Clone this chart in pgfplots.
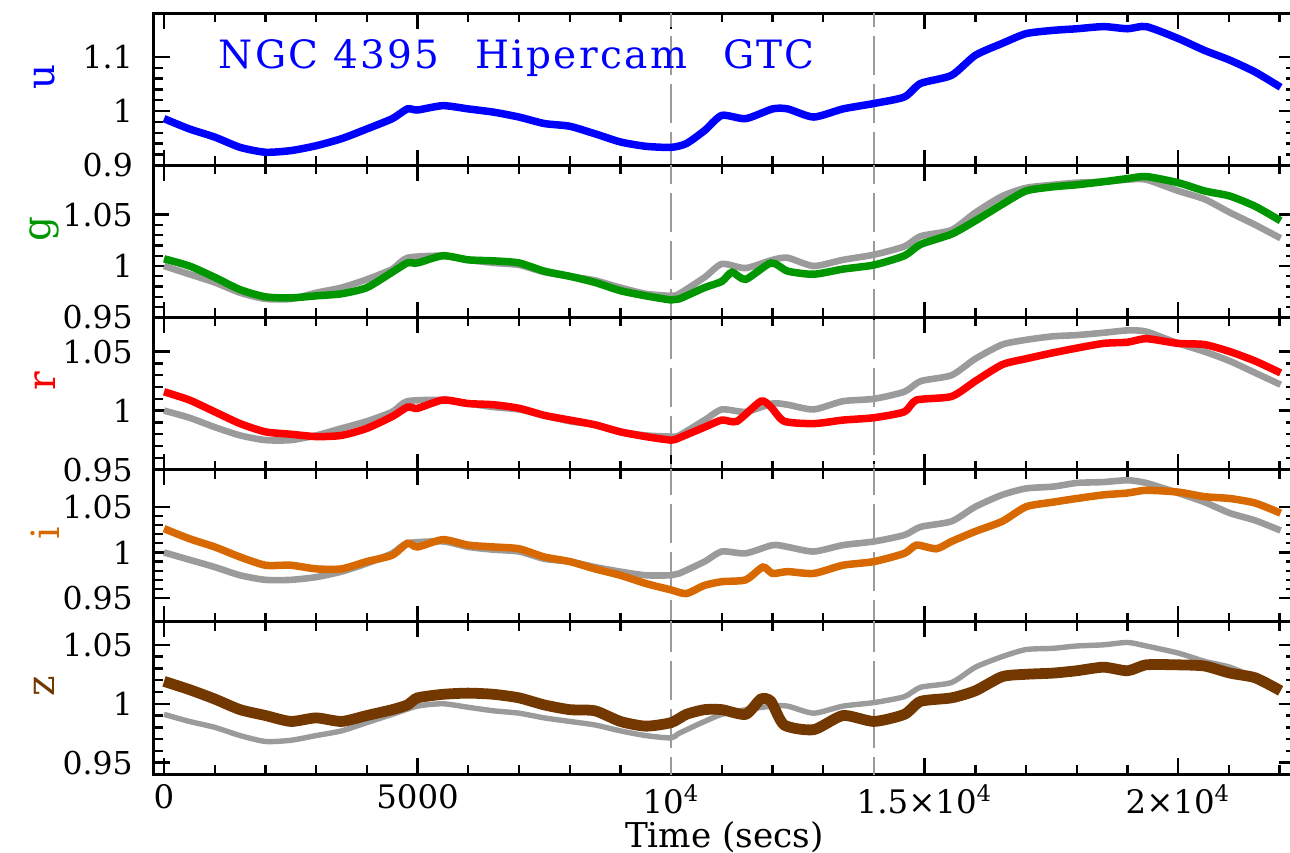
\documentclass[border=0pt]{standalone}
\usepackage{fontspec}
\setmainfont{DejaVu Serif}
\usepackage{pgfplots}
\pgfplotsset{compat=1.18}
\definecolor{cu}{RGB}{0,0,255}
\definecolor{cg}{RGB}{0,150,0}
\definecolor{cr}{RGB}{255,0,0}
\definecolor{ci}{RGB}{215,105,0}
\definecolor{cz}{RGB}{115,55,0}
\definecolor{cgray}{RGB}{155,155,155}
\pgfplotsset{
  panel/.style={
    scale only axis, width=380.3pt, height=50.73pt,
    xmin=-200, xmax=22300,
    scaled x ticks=false, scaled y ticks=false,
    xtick={0,5000,10000,15000,20000},
    minor xtick={1000,2000,...,22000},
    xticklabels={},
    minor y tick num=4,
    tick align=inside,
    major tick length=5.2pt, minor tick length=3pt,
    axis line style={line width=1pt},
    every tick/.style={black, line width=0.8pt},
    yticklabel style={font=\fontsize{10.5}{12}\selectfont, xshift=-3.5pt},
    xticklabel style={font=\fontsize{10.8}{12}\selectfont, yshift=0pt},
    every axis y label/.style={at={(rel axis cs:0,0.58)}, rotate=90, anchor=center, yshift=36.4pt, font=\fontsize{13}{15}\selectfont},
    every axis x label/.style={at={(rel axis cs:0.5,0)}, anchor=base, yshift=-24.4pt, font=\fontsize{11.4}{13}\selectfont},
    clip=true,
  },
  dline/.style={cgray, line width=0.6pt, dash pattern=on 13pt off 3pt},
  dat/.style={line width=2.5pt, smooth, tension=0.4, mark=none},
  gdat/.style={line width=2.2pt, smooth, tension=0.4, mark=none, cgray},
}
\begin{document}
\begin{tikzpicture}
\path[use as bounding box] (-51.3pt,-26pt) rectangle (378.7pt,258pt);

% ---------------- u ----------------
\begin{axis}[panel, at={(0,202.92pt)}, ymin=0.9, ymax=1.181,
  ytick={0.9,1,1.1}, yticklabels={0.9,1,1.1}, ylabel={u}, ylabel style={text=cu}]
\addplot[dline] coordinates {(10000,0.8) (10000,1.3)};
\addplot[dline] coordinates {(14000,0.8) (14000,1.3)};
\addplot[dat, cu] coordinates {(0,0.986)(500,0.967)(1000,0.952)(1500,0.933)(2000,0.924)(2500,0.927)(3000,0.936)(3500,0.949)(4000,0.967)(4500,0.986)(4800,1.004)(5000,1.002)(5500,1.010)(6000,1.004)(6500,0.998)(7000,0.989)(7500,0.977)(8000,0.972)(8500,0.958)(9000,0.943)(9500,0.935)(10000,0.933)(10300,0.940)(10660,0.964)(11000,0.992)(11470,0.986)(12000,1.004)(12300,1.004)(12810,0.989)(13390,1.004)(14000,1.014)(14600,1.026)(14920,1.051)(15530,1.066)(16000,1.103)(16530,1.125)(17000,1.143)(17530,1.149)(18000,1.152)(18530,1.156)(19000,1.152)(19370,1.156)(20000,1.134)(20520,1.112)(21020,1.094)(21520,1.072)(22020,1.044)};
\node[anchor=base west, inner sep=0pt, text=cu, font=\fontsize{13}{15}\selectfont\addfontfeatures{LetterSpace=6}] at (axis cs:1065,1.0785) {NGC 4395\hspace{12pt}Hipercam\hspace{12pt}GTC};
\end{axis}

% ---------------- g ----------------
\begin{axis}[panel, at={(0,152.19pt)}, ymin=0.95, ymax=1.098,
  ytick={0.95,1,1.05}, yticklabels={0.95,1,1.05}, ylabel={g}, ylabel style={text=cg}]
\addplot[dline] coordinates {(10000,0.8) (10000,1.3)};
\addplot[dline] coordinates {(14000,0.8) (14000,1.3)};
\addplot[gdat] coordinates {(0,1.000)(500,0.992)(1000,0.984)(1500,0.974)(2000,0.968)(2500,0.968)(3000,0.974)(3500,0.979)(4000,0.987)(4500,0.997)(4800,1.008)(5500,1.010)(6000,1.006)(6500,1.003)(7000,1.001)(7500,0.994)(8000,0.990)(8500,0.986)(9000,0.979)(9500,0.973)(10000,0.971)(10160,0.973)(10660,0.989)(11000,1.002)(11470,0.998)(12000,1.006)(12300,1.008)(12810,1.000)(13390,1.006)(14000,1.011)(14600,1.019)(14920,1.029)(15530,1.035)(16000,1.052)(16530,1.068)(17000,1.076)(17530,1.079)(18000,1.081)(18530,1.082)(19000,1.084)(19370,1.084)(20000,1.073)(20520,1.065)(21020,1.052)(21520,1.040)(22020,1.027)};
\addplot[dat, cg] coordinates {(0,1.007)(500,1.000)(1000,0.989)(1500,0.977)(2000,0.970)(2500,0.969)(3000,0.971)(3500,0.973)(4000,0.979)(4500,0.994)(4800,1.003)(5000,1.003)(5500,1.010)(6000,1.006)(6500,1.005)(7000,1.003)(7500,0.995)(8000,0.990)(8500,0.984)(9000,0.976)(9500,0.971)(10000,0.967)(10160,0.968)(10660,0.979)(11000,0.985)(11200,0.994)(11470,0.987)(11970,1.003)(12300,0.995)(12810,0.992)(13390,0.997)(14000,1.001)(14600,1.010)(14920,1.021)(15530,1.031)(16000,1.044)(16530,1.060)(17000,1.073)(17530,1.077)(18000,1.079)(18530,1.082)(19000,1.085)(19370,1.087)(20000,1.081)(20520,1.073)(21020,1.068)(21520,1.058)(22020,1.044)};
\end{axis}

% ---------------- r ----------------
\begin{axis}[panel, at={(0,101.46pt)}, ymin=0.95, ymax=1.079,
  ytick={0.95,1,1.05}, yticklabels={0.95,1,1.05}, ylabel={r}, ylabel style={text=cr}]
\addplot[dline] coordinates {(10000,0.8) (10000,1.3)};
\addplot[dline] coordinates {(14000,0.8) (14000,1.3)};
\addplot[gdat] coordinates {(0,1.000)(500,0.994)(1000,0.986)(1500,0.979)(2000,0.975)(2500,0.975)(3000,0.979)(3500,0.985)(4000,0.991)(4500,0.999)(4800,1.008)(5500,1.009)(6000,1.006)(6500,1.003)(7000,1.001)(7500,0.996)(8000,0.991)(8500,0.988)(9000,0.982)(9500,0.979)(10000,0.978)(10160,0.979)(10660,0.992)(11000,1.001)(11470,0.999)(12000,1.006)(12300,1.005)(12810,1.001)(13390,1.008)(14000,1.010)(14600,1.016)(14920,1.025)(15530,1.030)(16000,1.044)(16530,1.056)(17000,1.060)(17530,1.063)(18000,1.064)(18530,1.066)(19000,1.068)(19370,1.067)(20000,1.057)(20520,1.050)(21020,1.042)(21520,1.032)(22020,1.022)};
\addplot[dat, cr] coordinates {(0,1.016)(500,1.009)(1000,0.999)(1500,0.989)(2000,0.982)(2500,0.980)(3000,0.978)(3500,0.979)(4000,0.985)(4500,0.995)(4800,1.003)(5000,1.002)(5500,1.009)(6000,1.006)(6500,1.005)(7000,1.002)(7500,0.996)(8000,0.992)(8500,0.988)(9000,0.982)(9500,0.978)(10000,0.975)(10160,0.977)(10660,0.986)(11000,0.992)(11300,0.991)(11770,1.008)(11970,1.003)(12230,0.991)(12810,0.989)(13390,0.992)(14000,0.994)(14600,0.999)(14840,1.009)(15530,1.012)(16000,1.025)(16530,1.039)(17000,1.044)(17530,1.049)(18000,1.053)(18530,1.057)(19000,1.058)(19370,1.061)(20000,1.057)(20520,1.056)(21020,1.050)(21520,1.042)(22020,1.032)};
\end{axis}

% ---------------- i ----------------
\begin{axis}[panel, at={(0,50.73pt)}, ymin=0.9241, ymax=1.0906,
  ytick={0.95,1,1.05}, yticklabels={0.95,1,1.05}, ylabel={i}, ylabel style={text=ci}]
\addplot[dline] coordinates {(10000,0.8) (10000,1.3)};
\addplot[dline] coordinates {(14000,0.8) (14000,1.3)};
\addplot[gdat] coordinates {(0,1.000)(500,0.992)(1000,0.984)(1500,0.975)(2000,0.970)(2500,0.970)(3000,0.973)(3500,0.979)(4000,0.988)(4500,0.999)(4800,1.010)(5500,1.012)(6000,1.006)(6500,1.003)(7000,1.001)(7500,0.993)(8000,0.990)(8500,0.984)(9000,0.979)(9500,0.975)(10000,0.975)(10160,0.977)(10660,0.990)(11000,1.001)(11470,0.999)(12000,1.008)(12300,1.006)(12810,1.001)(13390,1.008)(14000,1.012)(14600,1.019)(14920,1.028)(15530,1.034)(16000,1.050)(16530,1.063)(17000,1.070)(17530,1.072)(18000,1.076)(18530,1.077)(19000,1.079)(19370,1.076)(20000,1.065)(20520,1.055)(21020,1.043)(21520,1.035)(22020,1.024)};
\addplot[dat, ci] coordinates {(0,1.026)(500,1.015)(1000,1.006)(1500,0.995)(2000,0.986)(2500,0.986)(3000,0.982)(3500,0.982)(4000,0.990)(4500,0.997)(4800,1.010)(5000,1.006)(5500,1.014)(6000,1.008)(6500,1.006)(7000,1.004)(7500,0.995)(8000,0.990)(8500,0.982)(9000,0.975)(9500,0.966)(10000,0.959)(10300,0.955)(10660,0.964)(11000,0.968)(11470,0.970)(11810,0.984)(12000,0.977)(12300,0.979)(12810,0.977)(13390,0.986)(14000,0.990)(14600,0.999)(14840,1.008)(15230,1.004)(15530,1.012)(16000,1.023)(16530,1.034)(17000,1.050)(17530,1.055)(18000,1.059)(18530,1.063)(19000,1.065)(19370,1.068)(20000,1.066)(20520,1.061)(21020,1.059)(21520,1.054)(22020,1.043)};
\end{axis}

% ---------------- z ----------------
\begin{axis}[panel, at={(0,0pt)}, ymin=0.9404, ymax=1.0695,
  ytick={0.95,1,1.05}, yticklabels={0.95,1,1.05}, ylabel={z}, ylabel style={text=cz},
  xticklabels={0,5000,10\textsuperscript{4},1.5×10\textsuperscript{4},2×10\textsuperscript{4}},
  xlabel={Time (secs)}]
\addplot[dline] coordinates {(10000,0.8) (10000,1.3)};
\addplot[dline] coordinates {(14000,0.8) (14000,1.3)};
\addplot[gdat, line width=1.8pt] coordinates {(0,0.991)(500,0.985)(1000,0.980)(1500,0.973)(2000,0.968)(2500,0.969)(3000,0.973)(3500,0.977)(4000,0.984)(4500,0.991)(5000,0.998)(5500,1.000)(6000,0.997)(6500,0.994)(7000,0.992)(7500,0.988)(8000,0.985)(8500,0.982)(9000,0.977)(9500,0.973)(10000,0.971)(10160,0.975)(10660,0.985)(11000,0.991)(11470,0.995)(12000,0.998)(12300,0.998)(12810,0.992)(13390,0.998)(14000,1.001)(14600,1.006)(14920,1.014)(15530,1.018)(16000,1.031)(16530,1.040)(17000,1.046)(17530,1.047)(18000,1.049)(18530,1.050)(19000,1.052)(19370,1.049)(20000,1.043)(20520,1.036)(21020,1.031)(21520,1.022)(22020,1.012)};
\addplot[dat, cz, line width=3.6pt] coordinates {(0,1.019)(500,1.012)(1000,1.004)(1500,0.995)(2000,0.990)(2500,0.985)(3000,0.988)(3500,0.985)(4000,0.990)(4500,0.995)(4800,0.999)(5000,1.005)(5500,1.008)(6000,1.009)(6500,1.008)(7000,1.005)(7500,0.999)(8000,0.995)(8500,0.994)(9000,0.985)(9500,0.981)(10000,0.984)(10300,0.991)(10660,0.995)(11000,0.995)(11470,0.991)(11770,1.004)(11970,1.002)(12230,0.982)(12810,0.978)(13390,0.990)(14000,0.985)(14600,0.991)(14920,1.002)(15530,1.005)(16000,1.011)(16530,1.023)(17000,1.025)(17530,1.026)(18000,1.028)(18530,1.031)(19000,1.028)(19370,1.033)(20000,1.033)(20520,1.032)(21020,1.026)(21520,1.022)(22020,1.011)};
\end{axis}
\end{tikzpicture}
\end{document}
